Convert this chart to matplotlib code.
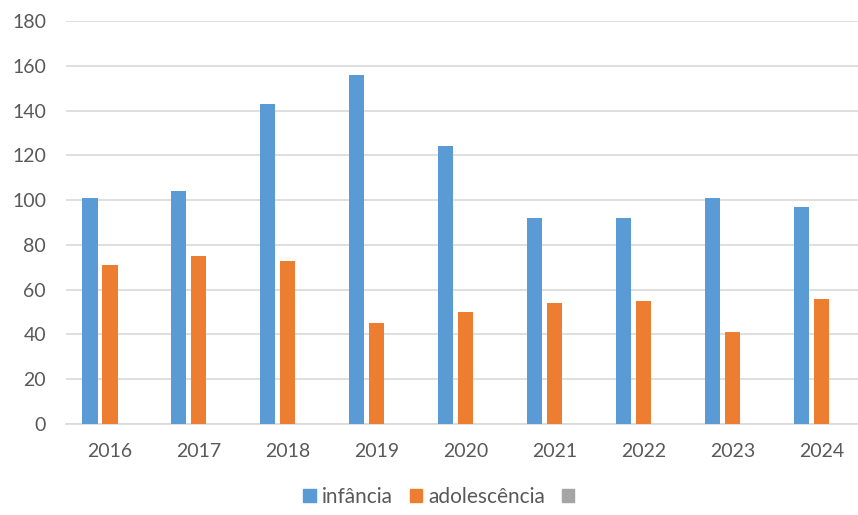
import numpy as np
import matplotlib
matplotlib.use("Agg")
import matplotlib.pyplot as plt
from matplotlib.patches import Patch

# data
years = ["2016", "2017", "2018", "2019", "2020", "2021", "2022", "2023", "2024"]
infancia = [101, 104, 143, 156, 124, 92, 92, 101, 97]
adolescencia = [71, 75, 73, 45, 50, 54, 55, 41, 56]
series_names = ["infância", "adolescência", ""]

BLUE = "#5B9BD5"
ORANGE = "#ED7D31"
GRAY = "#A5A5A5"
TEXT = "#595959"
GRID = "#D9D9D9"

plt.rcParams["font.family"] = ["Lato", "DejaVu Sans"]

fig = plt.figure(figsize=(8.58, 5.15), dpi=100)
ax = fig.add_axes([65.5 / 858, 91 / 515, 800.5 / 858, 403 / 515])

x = np.arange(len(years))
slot = 0.225
width = 0.17
ax.bar(x - slot, infancia, width, color=BLUE, zorder=3)
ax.bar(x, adolescencia, width, color=ORANGE, zorder=3)
# third series is empty in the source chart (only its legend key shows)

ax.set_xlim(-0.5, len(years) - 0.5)
ax.set_ylim(0, 180)
ax.set_yticks(range(0, 181, 20))
ax.set_xticks(x)
ax.set_xticklabels(years)

ax.grid(axis="y", color=GRID, linewidth=1.2, zorder=0)
for s in ["top", "right", "left"]:
    ax.spines[s].set_visible(False)
ax.spines["bottom"].set_color(GRID)
ax.spines["bottom"].set_linewidth(1.2)
ax.tick_params(axis="both", length=0, colors=TEXT, labelsize=14)
ax.tick_params(axis="y", pad=14)
ax.tick_params(axis="x", pad=14)

handles = [Patch(color=BLUE), Patch(color=ORANGE), Patch(color=GRAY)]
leg = fig.legend(handles, series_names, loc="center", bbox_to_anchor=(442 / 858, 1 - 497 / 515),
                 ncol=3, frameon=False, fontsize=15, handlelength=0.6, handleheight=0.6,
                 handletextpad=0.3, columnspacing=0.8)
for t in leg.get_texts():
    t.set_color(TEXT)

fig.savefig("out.png", dpi=100)
